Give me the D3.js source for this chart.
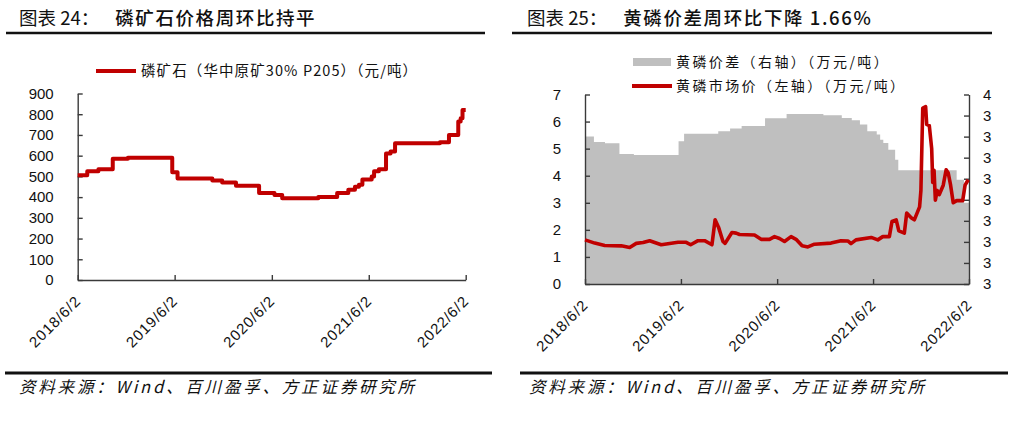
<!DOCTYPE html>
<html><head><meta charset="utf-8">
<script src="https://cdn.jsdelivr.net/npm/d3@7"></script>
<style>body{margin:0;background:#fff}svg{display:block}</style>
</head><body>
<svg id="c" width="1016" height="425"></svg>
<script>
// ---------- data ----------
const xTickDates = ["2018-06-02","2019-06-02","2020-06-02","2021-06-02","2022-06-02"];
const xTickLabels = ["2018/6/2","2019/6/2","2020/6/2","2021/6/2","2022/6/2"];

// Chart 24: phosphate rock price (step changes)
const rockDates = ["2018-06-02","2018-07-08","2018-08-19","2018-10-12","2018-12-08","2019-05-24","2019-06-13",
  "2019-10-22","2019-11-28","2020-01-19","2020-04-15","2020-06-12","2020-07-11","2020-11-24","2021-02-03",
  "2021-03-17","2021-04-11","2021-04-26","2021-05-09","2021-06-13","2021-06-22","2021-07-10","2021-08-06",
  "2021-08-23","2021-09-09","2022-02-25","2022-03-31","2022-05-05","2022-05-14","2022-05-21","2022-06-02"];
const rockValues = [505,525,535,585,590,520,490,
  480,470,455,420,410,395,400,420,
  435,450,460,485,500,525,535,610,
  620,660,665,700,765,780,820,820];
const rockTicks = [0,100,200,300,400,500,600,700,800,900];

// Chart 25: yellow phosphorus spread (right axis, step changes)
const spreadDates = ["2018-06-02","2018-07-06","2018-08-17","2018-10-11","2018-12-05","2019-05-24","2019-06-14",
  "2019-10-22","2019-12-06","2020-01-19","2020-04-17","2020-07-08","2020-11-25","2021-02-03","2021-03-13",
  "2021-04-13","2021-05-11","2021-06-16","2021-06-29","2021-07-11","2021-07-30","2021-08-25","2021-09-06",
  "2022-04-16","2022-05-14","2022-06-02"];
const spreadValues = [7.01,6.75,6.69,6.17,6.13,6.78,7.14,
  7.25,7.39,7.50,7.87,8.07,8.01,7.88,7.78,
  7.57,7.25,7.10,6.85,6.70,6.38,5.90,5.40,
  4.95,3.86,3.86];
const spreadTickLabels = ["3","3","3","3","3","3","3","3","3","4"];

// Chart 25: yellow phosphorus market price (left axis)
const priceDates = ["2018-06-02","2018-07-09","2018-08-16","2018-10-18","2018-11-19","2018-12-14","2019-01-09",
  "2019-02-03","2019-03-19","2019-05-22","2019-06-22","2019-07-09","2019-08-06","2019-08-31","2019-09-28",
  "2019-10-10","2019-10-23","2019-11-09","2019-11-17","2019-12-13","2019-12-29","2020-01-11","2020-03-08",
  "2020-04-02","2020-05-04","2020-05-23","2020-06-11","2020-06-30","2020-07-25","2020-08-13","2020-09-05",
  "2020-09-27","2020-10-22","2020-12-24","2021-01-31","2021-02-26","2021-03-10","2021-03-29","2021-05-26",
  "2021-06-20","2021-07-09","2021-08-03","2021-08-13","2021-08-29","2021-09-08","2021-09-29","2021-10-08",
  "2021-10-25","2021-11-06","2021-11-26","2021-12-01","2021-12-08","2021-12-19","2021-12-23","2022-01-02",
  "2022-01-11","2022-01-15","2022-01-20","2022-01-25","2022-02-01","2022-02-09","2022-02-24","2022-03-07",
  "2022-03-15","2022-03-24","2022-04-03","2022-04-16","2022-05-09","2022-05-18","2022-05-30"];
const priceValues = [1.63,1.51,1.42,1.41,1.35,1.50,1.53,
  1.60,1.45,1.54,1.54,1.45,1.60,1.60,1.45,
  2.37,2.10,1.57,1.50,1.90,1.88,1.83,1.81,
  1.65,1.65,1.75,1.68,1.57,1.75,1.65,1.41,
  1.37,1.47,1.51,1.60,1.59,1.49,1.63,1.72,
  1.63,1.75,1.75,2.31,2.37,1.96,1.88,2.62,
  2.45,2.37,2.85,3.45,6.50,6.55,5.90,5.85,
  5.00,3.75,4.20,3.10,3.45,3.30,3.65,4.22,
  4.10,3.65,3.00,3.08,3.08,3.65,3.85];
const priceTicks = [0,1,2,3,4,5,6,7];

// ---------- drawing ----------
const parse = d3.timeParse("%Y-%m-%d");
const svg = d3.select("#c");
const RED = "#C00000", AX = "#3a3a3a";
const NUM = "'Liberation Sans', Arial, 'Noto Sans CJK SC', sans-serif";
const CJK = "'Noto Sans CJK SC', 'Liberation Sans', sans-serif";
const dateDomain = [parse(xTickDates[0]), parse(xTickDates[xTickDates.length-1])];

function header(x0, x1, tx, num, title) {
  const t = svg.append("text").attr("x", tx).attr("y", 25)
    .attr("font-family", CJK).attr("font-size", 18.5).attr("fill", "#111");
  t.append("tspan").attr("font-weight", 400).text("图表 " + num + "：");
  t.append("tspan").attr("dx", 16).attr("font-weight", 500).attr("letter-spacing", 1.6).text(title);
  svg.append("line").attr("x1", x0).attr("x2", x1).attr("y1", 33).attr("y2", 33)
    .attr("stroke", "#111").attr("stroke-width", 2.6);
}
function footer(x0, x1, tx) {
  svg.append("line").attr("x1", x0).attr("x2", x1).attr("y1", 373).attr("y2", 373)
    .attr("stroke", "#111").attr("stroke-width", 3);
  svg.append("text").attr("x", tx).attr("y", 393).attr("font-family", CJK)
    .attr("font-size", 16.5).attr("font-style", "italic").attr("letter-spacing", 2.8)
    .attr("fill", "#111").text("资料来源：Wind、百川盈孚、方正证券研究所");
}
function styleAxis(g) {
  g.selectAll(".domain").attr("stroke", AX).attr("stroke-width", 1.4);
  g.selectAll(".tick line").attr("stroke", AX).attr("stroke-width", 1.4);
  g.selectAll(".tick text").attr("font-family", NUM).attr("font-size", 15).attr("fill", "#111");
}
function xAxis(x, yPos) {
  const g = svg.append("g").attr("transform", `translate(0,${yPos})`)
    .call(d3.axisBottom(x).tickValues(xTickDates.map(parse)).tickSize(-5).tickSizeOuter(0).tickFormat(""));
  styleAxis(g);
  xTickDates.forEach((d, i) => {
    const px = x(parse(d));
    svg.append("text").attr("transform", `translate(${px + 4},${yPos + 22}) rotate(-45)`)
      .attr("text-anchor", "end").attr("font-family", NUM).attr("font-size", 15)
      .attr("letter-spacing", 0.9).attr("fill", "#111").text(xTickLabels[i]);
  });
}

// ===== Chart 24 =====
header(6, 485, 19, "24", "磷矿石价格周环比持平");
{
  const x = d3.scaleTime().domain(dateDomain).range([77.7, 465.7]);
  const y = d3.scaleLinear().domain([0, 900]).range([280, 93.5]);
  const gy = svg.append("g").attr("transform", "translate(77.7,0)")
    .call(d3.axisLeft(y).tickValues(rockTicks).tickSize(-5).tickSizeOuter(0).tickPadding(24));
  styleAxis(gy);
  xAxis(x, 280);
  const data = rockDates.map((d, i) => ({ d: parse(d), v: rockValues[i] }));
  svg.append("path").datum(data)
    .attr("d", d3.line().x(p => x(p.d)).y(p => y(p.v)).curve(d3.curveStepAfter))
    .attr("fill", "none").attr("stroke", RED).attr("stroke-width", 4).attr("stroke-linejoin", "round");
  // legend
  svg.append("line").attr("x1", 96).attr("x2", 136).attr("y1", 71).attr("y2", 71)
    .attr("stroke", RED).attr("stroke-width", 4);
  svg.append("text").attr("x", 141).attr("y", 71).attr("dy", "0.36em")
    .attr("font-family", CJK).attr("font-size", 14.5).attr("letter-spacing", 1.1).attr("fill", "#111")
    .text("磷矿石（华中原矿30% P205）（元/吨）");
}
footer(5, 492, 19);

// ===== Chart 25 =====
header(512, 992, 527, "25", "黄磷价差周环比下降 1.66%");
{
  const x = d3.scaleTime().domain(dateDomain).range([585, 969]);
  const yL = d3.scaleLinear().domain([0, 7]).range([284, 94.5]);
  const yR = d3.scaleLinear().domain([0, 9]).range([284, 94.5]);
  const sData = spreadDates.map((d, i) => ({ d: parse(d), v: spreadValues[i] }));
  svg.append("path").datum(sData)
    .attr("d", d3.area().x(p => x(p.d)).y0(yR(0)).y1(p => yR(p.v)).curve(d3.curveStepAfter))
    .attr("fill", "#BFBFBF");
  const gy = svg.append("g").attr("transform", "translate(585,0)")
    .call(d3.axisLeft(yL).tickValues(priceTicks).tickSize(-5).tickSizeOuter(0).tickPadding(24)
      .tickFormat(d3.format("d")));
  styleAxis(gy);
  const gr = svg.append("g").attr("transform", "translate(969,0)")
    .call(d3.axisRight(yR).tickValues(d3.range(10)).tickSize(-5).tickSizeOuter(0).tickPadding(14)
      .tickFormat((d, i) => spreadTickLabels[i]));
  styleAxis(gr);
  xAxis(x, 284);
  const pData = priceDates.map((d, i) => ({ d: parse(d), v: priceValues[i] }));
  svg.append("path").datum(pData)
    .attr("d", d3.line().x(p => x(p.d)).y(p => yL(p.v)))
    .attr("fill", "none").attr("stroke", RED).attr("stroke-width", 3.6).attr("stroke-linejoin", "round");
  // legend
  svg.append("rect").attr("x", 633).attr("y", 58).attr("width", 38).attr("height", 8).attr("fill", "#BFBFBF");
  svg.append("text").attr("x", 676).attr("y", 62).attr("dy", "0.36em")
    .attr("font-family", CJK).attr("font-size", 14).attr("letter-spacing", 2.4).attr("fill", "#111")
    .text("黄磷价差（右轴）（万元/吨）");
  svg.append("line").attr("x1", 632).attr("x2", 672).attr("y1", 86).attr("y2", 86)
    .attr("stroke", RED).attr("stroke-width", 4);
  svg.append("text").attr("x", 676).attr("y", 86).attr("dy", "0.36em")
    .attr("font-family", CJK).attr("font-size", 14).attr("letter-spacing", 2.4).attr("fill", "#111")
    .text("黄磷市场价（左轴）（万元/吨）");
}
footer(520, 1008, 529);
</script>
</body></html>
